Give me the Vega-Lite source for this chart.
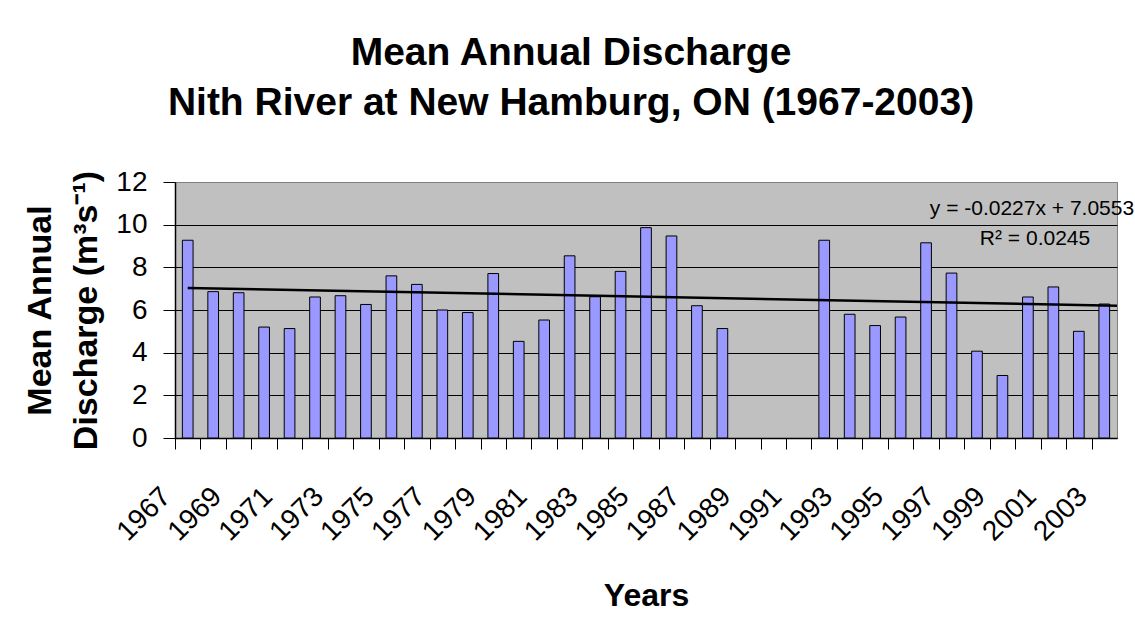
{
  "$schema": "https://vega.github.io/schema/vega-lite/v6.json",
  "width": 942,
  "height": 256,
  "autosize": {"type": "none"},
  "padding": {"left": 175, "top": 182, "right": 18, "bottom": 198},
  "background": "white",
  "title": {
    "text": ["Mean Annual Discharge", "Nith River at New Hamburg, ON (1967-2003)"],
    "fontSize": 39,
    "fontWeight": "bold",
    "lineHeight": 50,
    "color": "black",
    "anchor": "middle",
    "dx": -75,
    "offset": 45
  },
  "config": {
    "font": "Liberation Sans",
    "view": {"fill": "#C0C0C0", "stroke": "#808080", "strokeWidth": 1}
  },
  "layer": [
    {
      "data": {
        "values": [
          {"year": 1967, "v": 9.27}, {"year": 1968, "v": 6.86}, {"year": 1969, "v": 6.81},
          {"year": 1970, "v": 5.20}, {"year": 1971, "v": 5.13}, {"year": 1972, "v": 6.61},
          {"year": 1973, "v": 6.67}, {"year": 1974, "v": 6.26}, {"year": 1975, "v": 7.60},
          {"year": 1976, "v": 7.20}, {"year": 1977, "v": 6.00}, {"year": 1978, "v": 5.88},
          {"year": 1979, "v": 7.71}, {"year": 1980, "v": 4.53}, {"year": 1981, "v": 5.53},
          {"year": 1982, "v": 8.54}, {"year": 1983, "v": 6.62}, {"year": 1984, "v": 7.81},
          {"year": 1985, "v": 9.86}, {"year": 1986, "v": 9.47}, {"year": 1987, "v": 6.20},
          {"year": 1988, "v": 5.13}, {"year": 1992, "v": 9.27}, {"year": 1993, "v": 5.80},
          {"year": 1994, "v": 5.27}, {"year": 1995, "v": 5.67}, {"year": 1996, "v": 9.15},
          {"year": 1997, "v": 7.73}, {"year": 1998, "v": 4.07}, {"year": 1999, "v": 2.93},
          {"year": 2000, "v": 6.61}, {"year": 2001, "v": 7.08}, {"year": 2002, "v": 5.00},
          {"year": 2003, "v": 6.28}
        ]
      },
      "mark": {"type": "bar", "fill": "#9999FF", "stroke": "#000000", "strokeWidth": 1},
      "encoding": {
        "x": {
          "field": "year",
          "type": "ordinal",
          "scale": {
            "domain": [1967,1968,1969,1970,1971,1972,1973,1974,1975,1976,1977,1978,1979,1980,1981,1982,1983,1984,1985,1986,1987,1988,1989,1990,1991,1992,1993,1994,1995,1996,1997,1998,1999,2000,2001,2002,2003],
            "paddingInner": 0.58,
            "paddingOuter": 0.29
          },
          "axis": {
            "title": "Years",
            "titleFontSize": 32,
            "titleFontWeight": "bold",
            "titleColor": "black",
            "titlePadding": 35,
            "labelAngle": -45,
            "labelAlign": "right",
            "labelBaseline": "middle",
            "labelFontSize": 28,
            "labelColor": "black",
            "labelExpr": "datum.value % 2 == 1 ? datum.label : ''",
            "labelPadding": 43,
            "labelOffset": -9,
            "labelOverlap": false,
            "bandPosition": 0.5,
            "tickOffset": -12.73,
            "tickSize": 11,
            "tickColor": "black",
            "domainColor": "black",
            "domainWidth": 1.5
          }
        },
        "y": {
          "field": "v",
          "type": "quantitative",
          "scale": {"domain": [0, 12], "nice": false},
          "axis": {
            "title": ["Mean Annual", "Discharge (m³s⁻¹)"],
            "titleFontSize": 34,
            "titleFontWeight": "bold",
            "titleLineHeight": 46,
            "titleColor": "black",
            "titlePadding": 12,
            "values": [0, 2, 4, 6, 8, 10, 12],
            "labelFontSize": 28,
            "labelColor": "black",
            "labelPadding": 16,
            "labelOverlap": false,
            "labelFlush": false,
            "tickSize": 12,
            "tickColor": "black",
            "domainColor": "black",
            "domainWidth": 1.5,
            "grid": true,
            "gridColor": {"condition": {"test": "datum.value === 12", "value": "#808080"}, "value": "#000000"},
            "gridOpacity": 1,
            "gridWidth": 1
          }
        }
      }
    },
    {
      "data": {"values": [{"t": 1, "v": 7.0326}, {"t": 37.5, "v": 6.204}]},
      "mark": {"type": "line", "color": "black", "strokeWidth": 2.5},
      "encoding": {
        "x": {"field": "t", "type": "quantitative", "scale": {"domain": [0.5, 37.5], "nice": false, "zero": false}, "axis": null},
        "y": {"field": "v", "type": "quantitative"}
      }
    },
    {
      "data": {
        "values": [
          {"t": 34.16, "v": 10.44, "label": "y = -0.0227x + 7.0553"},
          {"t": 34.28, "v": 9.04, "label": "R² = 0.0245"}
        ]
      },
      "mark": {"type": "text", "fontSize": 21, "color": "black", "align": "center", "baseline": "alphabetic"},
      "encoding": {
        "x": {"field": "t", "type": "quantitative", "scale": {"domain": [0.5, 37.5], "nice": false, "zero": false}, "axis": null},
        "y": {"field": "v", "type": "quantitative"},
        "text": {"field": "label", "type": "nominal"}
      }
    }
  ],
  "resolve": {"scale": {"x": "independent"}}
}
